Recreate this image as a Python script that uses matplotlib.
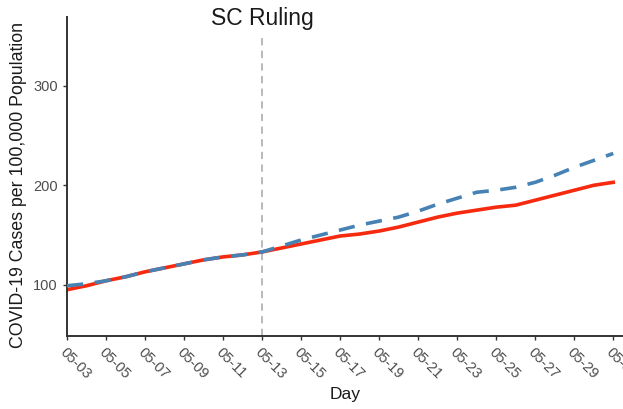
import pandas as pd
import matplotlib
matplotlib.use('Agg')
import matplotlib.pyplot as plt
import matplotlib.dates as mdates

plt.rcParams['font.family'] = ['Liberation Sans', 'DejaVu Sans']

# Дневные значения с 05-03 по 05-31
days = pd.date_range('2020-05-03', '2020-05-31', freq='D')
observed = [95, 99, 104, 108, 113, 117, 121, 125, 128, 130, 133, 137, 141, 145, 149,
            151, 154, 158, 163, 168, 172, 175, 178, 180, 185, 190, 195, 200, 203]
synthetic = [99, 101, 104, 108, 113, 117, 121, 125, 128, 130, 133, 139, 145, 150, 155,
             160, 164, 168, 174, 181, 187, 193, 195, 198, 203, 210, 218, 225, 232]
ruling_day = pd.Timestamp('2020-05-13')
y_ticks = [100, 200, 300]

fig = plt.figure(figsize=(6.23, 4.09), dpi=100)
ax = fig.add_axes([0.1075, 0.1785, 0.8925, 0.7795])

ax.plot(days, synthetic, color='#4682b4', lw=2.6, dashes=(4.5, 3.2), zorder=3)
ax.plot(days, observed, color='#f52a0e', lw=2.6, zorder=2)
ax.axvline(ruling_day, ymax=0.94, color='#b3b3b3', lw=1.3, dashes=(4, 3), zorder=1)
ax.text(ruling_day, 0.995, 'SC Ruling', transform=ax.get_xaxis_transform(),
        ha='center', va='center', fontsize=16.5, color='#1a1a1a', clip_on=False)

ax.set_xlim(days[0], pd.Timestamp('2020-05-31 12:00'))
ax.set_ylim(48.5, 369)
ax.set_yticks(y_ticks)
ax.set_xticks(days[::2])
ax.xaxis.set_major_formatter(mdates.DateFormatter('%m-%d'))

for s in ['top', 'right']:
    ax.spines[s].set_visible(False)
for s in ['left', 'bottom']:
    ax.spines[s].set_color('#333333')
    ax.spines[s].set_linewidth(1.4)

ax.tick_params(axis='both', colors='#333333', length=3, width=1, labelsize=10.5,
               labelcolor='#4d4d4d')
for lab in ax.get_xticklabels():
    lab.set_rotation(-45)
    lab.set_ha('left')
    lab.set_va('top')
    lab.set_rotation_mode('anchor')

ax.set_xlabel('Day', fontsize=12.5, color='#1a1a1a', labelpad=4)
ax.set_ylabel('COVID-19 Cases per 100,000 Population', fontsize=12.8, color='#1a1a1a')
ax.yaxis.set_label_coords(-0.072, 0.475)

fig.savefig('out.png', dpi=100)
